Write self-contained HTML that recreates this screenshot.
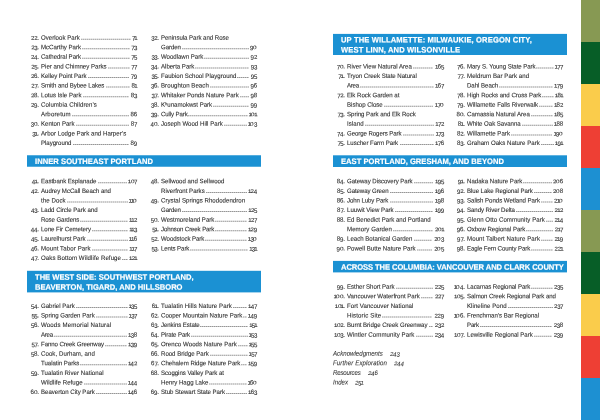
<!DOCTYPE html>
<html lang="en">
<head>
<meta charset="utf-8">
<title>Contents</title>
<style>
html,body{margin:0;padding:0;background:#fff}
body{width:600px;height:420px;position:relative;overflow:hidden;font-family:"Liberation Sans",sans-serif;color:#2a2a2a;text-rendering:geometricPrecision}
div{position:absolute;white-space:pre;line-height:9px;height:9px;transform-origin:0 6px}
.st{left:581px;width:19px;height:42px}
.bar{background:#1b91d3;transform-origin:0 0}
.h{font-weight:bold;font-size:7.6px;color:#fff;-webkit-text-stroke:0.18px #fff;line-height:10px;height:10px;transform-origin:0 7px}
.t,.n,.p{font-size:6.1px;-webkit-text-stroke:0.08px #2a2a2a}
.i{font-style:italic;color:#303030;-webkit-text-stroke:0.06px #303030}
.n,.p{width:30px;text-align:right}
.n0,.n1,.n2,.n3,.n4,.n5,.n6,.n7,.n8,.n9{display:inline-block;font-size:6.1px;transform-origin:0 6px;-webkit-text-stroke:0.08px #2a2a2a}
.n0{letter-spacing:0.2px;transform:scale(1.05,0.85)}
.n1{letter-spacing:-0.7px;margin-left:-0.5px;-webkit-text-stroke:0.12px #2a2a2a;transform:scale(1,0.85)}
.n2{letter-spacing:-0.3px;transform:scale(1,0.85)}
.n3{letter-spacing:-0.45px;transform:translateY(1.0px) scale(1,1.075)}
.n4{letter-spacing:-0.1px;transform:translateY(1.0px) scale(1,1.075)}
.n5{letter-spacing:-0.45px;transform:translateY(1.0px) scale(1,1.075)}
.n6{letter-spacing:-0.1px;transform:scale(1,1.075)}
.n7{letter-spacing:-0.5px;transform:translateY(1.0px) scale(1,1.075)}
.n8{letter-spacing:-0.1px;transform:scale(1,1.075)}
.n9{letter-spacing:-0.1px;transform:translateY(1.0px) scale(1,1.075)}
.i span{-webkit-text-stroke:0.06px #303030}
.l{height:2px;background-repeat:no-repeat;background-size:100% 1px;background-position:0 0,0 1px}
.l0{background-image:repeating-linear-gradient(90deg,rgba(0,0,0,0.412) 0,rgba(0,0,0,0.412) 1px,rgba(0,0,0,0.231) 1px,rgba(0,0,0,0.231) 2px),repeating-linear-gradient(90deg,rgba(0,0,0,0) 0,rgba(0,0,0,0) 1px,rgba(0,0,0,0) 1px,rgba(0,0,0,0) 2px)}
.l1{background-image:repeating-linear-gradient(90deg,rgba(0,0,0,0.309) 0,rgba(0,0,0,0.309) 1px,rgba(0,0,0,0.174) 1px,rgba(0,0,0,0.174) 2px),repeating-linear-gradient(90deg,rgba(0,0,0,0.103) 0,rgba(0,0,0,0.103) 1px,rgba(0,0,0,0.058) 1px,rgba(0,0,0,0.058) 2px)}
.l2{background-image:repeating-linear-gradient(90deg,rgba(0,0,0,0.206) 0,rgba(0,0,0,0.206) 1px,rgba(0,0,0,0.116) 1px,rgba(0,0,0,0.116) 2px),repeating-linear-gradient(90deg,rgba(0,0,0,0.206) 0,rgba(0,0,0,0.206) 1px,rgba(0,0,0,0.116) 1px,rgba(0,0,0,0.116) 2px)}
.l3{background-image:repeating-linear-gradient(90deg,rgba(0,0,0,0.103) 0,rgba(0,0,0,0.103) 1px,rgba(0,0,0,0.058) 1px,rgba(0,0,0,0.058) 2px),repeating-linear-gradient(90deg,rgba(0,0,0,0.309) 0,rgba(0,0,0,0.309) 1px,rgba(0,0,0,0.174) 1px,rgba(0,0,0,0.174) 2px)}
</style>
</head>
<body>
<div class="st" style="top:0px;background:#879953"></div>
<div class="st" style="top:42px;background:#075e27"></div>
<div class="st" style="top:84px;background:#facc4b"></div>
<div class="st" style="top:126px;background:#ee3f34"></div>
<div class="st" style="top:168px;background:#1d90d2"></div>
<div class="st" style="top:210px;background:#879953"></div>
<div class="st" style="top:252px;background:#075e27"></div>
<div class="st" style="top:294px;background:#facc4b"></div>
<div class="st" style="top:336px;background:#ee3f34"></div>
<div class="st" style="top:378px;background:#1d90d2"></div>
<div class="bar" style="left:27px;top:156px;width:234px;height:10px"></div>
<div class="bar" style="left:27px;top:155px;width:234px;height:1px;opacity:0.75"></div>
<div class="bar" style="left:27px;top:166px;width:234px;height:1px;opacity:0.75"></div>
<div class="h" style="left:34.7px;top:157px;transform:matrix(1,0.0006,0,1.05,0,-0.035);letter-spacing:0.05px">INNER SOUTHEAST PORTLAND</div>
<div class="bar" style="left:27px;top:271px;width:234px;height:21px"></div>
<div class="bar" style="left:27px;top:270px;width:234px;height:1px;opacity:0.2"></div>
<div class="bar" style="left:27px;top:292px;width:234px;height:1px;opacity:0.4"></div>
<div class="h" style="left:34.7px;top:273px;transform:matrix(1,0.0006,0,1.05,0,-0.298);letter-spacing:0px">THE WEST SIDE: SOUTHWEST PORTLAND,</div>
<div class="h" style="left:34.7px;top:283px;transform:matrix(1,0.0006,0,1.05,0,-0.294);letter-spacing:0px">BEAVERTON, TIGARD, AND HILLSBORO</div>
<div class="bar" style="left:333px;top:34px;width:234px;height:21px"></div>
<div class="bar" style="left:333px;top:33px;width:234px;height:1px;opacity:0.1"></div>
<div class="h" style="left:340.5px;top:36px;transform:matrix(1,0.0006,0,1.05,0,-0.557);letter-spacing:0.12px">UP THE WILLAMETTE: MILWAUKIE, OREGON CITY,</div>
<div class="h" style="left:340.5px;top:45px;transform:matrix(1,0.0006,0,1.05,0,0.464);letter-spacing:0.12px">WEST LINN, AND WILSONVILLE</div>
<div class="bar" style="left:333px;top:156px;width:234px;height:11px"></div>
<div class="bar" style="left:333px;top:155px;width:234px;height:1px;opacity:0.7"></div>
<div class="h" style="left:340.5px;top:157px;transform:matrix(1,0.0006,0,1.05,0,-0.049);letter-spacing:0.01px">EAST PORTLAND, GRESHAM, AND BEYOND</div>
<div class="bar" style="left:333px;top:261px;width:234px;height:11px"></div>
<div class="bar" style="left:333px;top:260px;width:234px;height:1px;opacity:0.1"></div>
<div class="bar" style="left:333px;top:272px;width:234px;height:1px;opacity:0.4"></div>
<div class="h" style="left:340.5px;top:263px;transform:matrix(1,0.0006,0,1.05,0,-0.317);letter-spacing:-0.08px">ACROSS THE COLUMBIA: VANCOUVER AND CLARK COUNTY</div>
<div class="n" style="left:9.2px;top:34px;transform:matrix(1,0.0006,0,1,0,-0.265)"><span class="n2">2</span><span class="n2">2</span>.</div>
<div class="t" style="left:41.1px;top:34px;transform:matrix(1,0.0006,0,1.045,0,-0.262);letter-spacing:0.01px">Overlook Park</div>
<div class="l l3" style="left:81px;top:38px;width:50px"></div>
<div class="p" style="left:107.4px;top:34px;transform:matrix(1,0.0006,0,1,0,-0.266)"><span class="n7">7</span><span class="n1">1</span></div>
<div class="n" style="left:9.2px;top:43px;transform:matrix(1,0.0006,0,1,0,0.235)"><span class="n2">2</span><span class="n3">3</span>.</div>
<div class="t" style="left:41.1px;top:43px;transform:matrix(1,0.0006,0,1.045,0,0.238);letter-spacing:-0.03px">McCarthy Park</div>
<div class="l l1" style="left:82px;top:48px;width:48px"></div>
<div class="p" style="left:107.4px;top:43px;transform:matrix(1,0.0006,0,1,0,0.234)"><span class="n7">7</span><span class="n3">3</span></div>
<div class="n" style="left:9.2px;top:53px;transform:matrix(1,0.0006,0,1,0,-0.265)"><span class="n2">2</span><span class="n4">4</span>.</div>
<div class="t" style="left:41.1px;top:53px;transform:matrix(1,0.0006,0,1.045,0,-0.262);letter-spacing:-0.05px">Cathedral Park</div>
<div class="l l3" style="left:82px;top:57px;width:48px"></div>
<div class="p" style="left:107.4px;top:53px;transform:matrix(1,0.0006,0,1,0,-0.266)"><span class="n7">7</span><span class="n5">5</span></div>
<div class="n" style="left:9.2px;top:62px;transform:matrix(1,0.0006,0,1,0,0.485)"><span class="n2">2</span><span class="n5">5</span>.</div>
<div class="t" style="left:41.1px;top:62px;transform:matrix(1,0.0006,0,1.045,0,0.48);letter-spacing:-0.01px">Pier and Chimney Parks</div>
<div class="l l2" style="left:108px;top:67px;width:22px"></div>
<div class="p" style="left:107.4px;top:62px;transform:matrix(1,0.0006,0,1,0,0.484)"><span class="n7">7</span><span class="n7">7</span></div>
<div class="n" style="left:9.2px;top:72px;transform:matrix(1,0.0006,0,1,0,-0.015)"><span class="n2">2</span><span class="n6">6</span>.</div>
<div class="t" style="left:41.1px;top:72px;transform:matrix(1,0.0006,0,1.045,0,-0.014);letter-spacing:-0.06px">Kelley Point Park</div>
<div class="l l0" style="left:88px;top:77px;width:41px"></div>
<div class="p" style="left:107.4px;top:72px;transform:matrix(1,0.0006,0,1,0,-0.016)"><span class="n7">7</span><span class="n9">9</span></div>
<div class="n" style="left:9.2px;top:82px;transform:matrix(1,0.0006,0,1,0,-0.515)"><span class="n2">2</span><span class="n7">7</span>.</div>
<div class="t" style="left:41.1px;top:82px;transform:matrix(1,0.0006,0,1.045,0,-0.519);letter-spacing:-0.05px">Smith and Bybee Lakes</div>
<div class="l l2" style="left:106px;top:86px;width:24px"></div>
<div class="p" style="left:107.4px;top:82px;transform:matrix(1,0.0006,0,1,0,-0.516)"><span class="n8">8</span><span class="n1">1</span></div>
<div class="n" style="left:9.2px;top:91px;transform:matrix(1,0.0006,0,1,0,0.235)"><span class="n2">2</span><span class="n8">8</span>.</div>
<div class="t" style="left:41.1px;top:91px;transform:matrix(1,0.0006,0,1.045,0,0.238);letter-spacing:0.01px">Lotus Isle Park</div>
<div class="l l1" style="left:83px;top:96px;width:46px"></div>
<div class="p" style="left:107.4px;top:91px;transform:matrix(1,0.0006,0,1,0,0.234)"><span class="n8">8</span><span class="n3">3</span></div>
<div class="n" style="left:9.2px;top:101px;transform:matrix(1,0.0006,0,1,0,-0.265)"><span class="n2">2</span><span class="n9">9</span>.</div>
<div class="t" style="left:41.1px;top:101px;transform:matrix(1,0.0006,0,1.045,0,-0.267);letter-spacing:0.08px">Columbia Children’s</div>
<div class="t" style="left:41.1px;top:110px;transform:matrix(1,0.0006,0,1.045,0,0.241);letter-spacing:0.14px">Arboretum</div>
<div class="l l1" style="left:72px;top:115px;width:57px"></div>
<div class="p" style="left:107.4px;top:110px;transform:matrix(1,0.0006,0,1,0,0.234)"><span class="n8">8</span><span class="n6">6</span></div>
<div class="n" style="left:9.2px;top:120px;transform:matrix(1,0.0006,0,1,0,-0.265)"><span class="n3">3</span><span class="n0">0</span>.</div>
<div class="t" style="left:41.1px;top:120px;transform:matrix(1,0.0006,0,1.045,0,-0.26);letter-spacing:-0.01px">Kenton Park</div>
<div class="l l3" style="left:76px;top:124px;width:53px"></div>
<div class="p" style="left:107.4px;top:120px;transform:matrix(1,0.0006,0,1,0,-0.266)"><span class="n8">8</span><span class="n7">7</span></div>
<div class="n" style="left:9.2px;top:129px;transform:matrix(1,0.0006,0,1,0,0.485)"><span class="n3">3</span><span class="n1">1</span>.</div>
<div class="t" style="left:41.1px;top:129px;transform:matrix(1,0.0006,0,1.045,0,0.474);letter-spacing:0.03px">Arbor Lodge Park and Harper’s</div>
<div class="t" style="left:41.1px;top:139px;transform:matrix(1,0.0006,0,1.045,0,-0.009);letter-spacing:-0.04px">Playground</div>
<div class="l l0" style="left:73px;top:144px;width:56px"></div>
<div class="p" style="left:107.4px;top:139px;transform:matrix(1,0.0006,0,1,0,-0.016)"><span class="n8">8</span><span class="n9">9</span></div>
<div class="n" style="left:128.8px;top:34px;transform:matrix(1,0.0006,0,1,0,-0.265)"><span class="n3">3</span><span class="n2">2</span>.</div>
<div class="t" style="left:160.7px;top:34px;transform:matrix(1,0.0006,0,1.045,0,-0.27);letter-spacing:-0.04px">Peninsula Park and Rose</div>
<div class="t" style="left:160.7px;top:43px;transform:matrix(1,0.0006,0,1.045,0,0.244);letter-spacing:-0.07px">Garden</div>
<div class="l l1" style="left:182px;top:48px;width:67px"></div>
<div class="p" style="left:227.4px;top:43px;transform:matrix(1,0.0006,0,1,0,0.234)"><span class="n9">9</span><span class="n0">0</span></div>
<div class="n" style="left:128.8px;top:53px;transform:matrix(1,0.0006,0,1,0,-0.265)"><span class="n3">3</span><span class="n3">3</span>.</div>
<div class="t" style="left:160.7px;top:53px;transform:matrix(1,0.0006,0,1.045,0,-0.263);letter-spacing:-0.03px">Woodlawn Park</div>
<div class="l l3" style="left:204px;top:57px;width:45px"></div>
<div class="p" style="left:227.4px;top:53px;transform:matrix(1,0.0006,0,1,0,-0.266)"><span class="n9">9</span><span class="n2">2</span></div>
<div class="n" style="left:128.8px;top:62px;transform:matrix(1,0.0006,0,1,0,0.485)"><span class="n3">3</span><span class="n4">4</span>.</div>
<div class="t" style="left:160.7px;top:62px;transform:matrix(1,0.0006,0,1.045,0,0.49);letter-spacing:-0.02px">Alberta Park</div>
<div class="l l2" style="left:195px;top:67px;width:54px"></div>
<div class="p" style="left:227.4px;top:62px;transform:matrix(1,0.0006,0,1,0,0.484)"><span class="n9">9</span><span class="n3">3</span></div>
<div class="n" style="left:128.8px;top:72px;transform:matrix(1,0.0006,0,1,0,-0.015)"><span class="n3">3</span><span class="n5">5</span>.</div>
<div class="t" style="left:160.7px;top:72px;transform:matrix(1,0.0006,0,1.045,0,-0.023);letter-spacing:0.02px">Faubion School Playground</div>
<div class="l l0" style="left:237px;top:77px;width:12px"></div>
<div class="p" style="left:227.4px;top:72px;transform:matrix(1,0.0006,0,1,0,-0.016)"><span class="n9">9</span><span class="n5">5</span></div>
<div class="n" style="left:128.8px;top:82px;transform:matrix(1,0.0006,0,1,0,-0.515)"><span class="n3">3</span><span class="n6">6</span>.</div>
<div class="t" style="left:160.7px;top:82px;transform:matrix(1,0.0006,0,1.045,0,-0.514);letter-spacing:0.05px">Broughton Beach</div>
<div class="l l2" style="left:210px;top:86px;width:39px"></div>
<div class="p" style="left:227.4px;top:82px;transform:matrix(1,0.0006,0,1,0,-0.516)"><span class="n9">9</span><span class="n6">6</span></div>
<div class="n" style="left:128.8px;top:91px;transform:matrix(1,0.0006,0,1,0,0.235)"><span class="n3">3</span><span class="n7">7</span>.</div>
<div class="t" style="left:160.7px;top:91px;transform:matrix(1,0.0006,0,1.045,0,0.227);letter-spacing:0.02px">Whitaker Ponds Nature Park</div>
<div class="l l1" style="left:240px;top:96px;width:9px"></div>
<div class="p" style="left:227.4px;top:91px;transform:matrix(1,0.0006,0,1,0,0.234)"><span class="n9">9</span><span class="n8">8</span></div>
<div class="n" style="left:128.8px;top:101px;transform:matrix(1,0.0006,0,1,0,-0.265)"><span class="n3">3</span><span class="n8">8</span>.</div>
<div class="t" style="left:160.7px;top:101px;transform:matrix(1,0.0006,0,1.045,0,-0.265);letter-spacing:-0.02px">Kʰunamokwst Park</div>
<div class="l l3" style="left:213px;top:105px;width:36px"></div>
<div class="p" style="left:227.4px;top:101px;transform:matrix(1,0.0006,0,1,0,-0.266)"><span class="n9">9</span><span class="n9">9</span></div>
<div class="n" style="left:128.8px;top:110px;transform:matrix(1,0.0006,0,1,0,0.235)"><span class="n3">3</span><span class="n9">9</span>.</div>
<div class="t" style="left:160.7px;top:110px;transform:matrix(1,0.0006,0,1.045,0,0.242);letter-spacing:-0.12px">Cully Park</div>
<div class="l l1" style="left:188px;top:115px;width:60px"></div>
<div class="p" style="left:227.4px;top:110px;transform:matrix(1,0.0006,0,1,0,0.234)"><span class="n1">1</span><span class="n0">0</span><span class="n1">1</span></div>
<div class="n" style="left:128.8px;top:120px;transform:matrix(1,0.0006,0,1,0,-0.265)"><span class="n4">4</span><span class="n0">0</span>.</div>
<div class="t" style="left:160.7px;top:120px;transform:matrix(1,0.0006,0,1.045,0,-0.269);letter-spacing:0.01px">Joseph Wood Hill Park</div>
<div class="l l3" style="left:224px;top:124px;width:23px"></div>
<div class="p" style="left:227.4px;top:120px;transform:matrix(1,0.0006,0,1,0,-0.266)"><span class="n1">1</span><span class="n0">0</span><span class="n3">3</span></div>
<div class="n" style="left:9.2px;top:177px;transform:matrix(1,0.0006,0,1,0,0.235)"><span class="n4">4</span><span class="n1">1</span>.</div>
<div class="t" style="left:41.1px;top:177px;transform:matrix(1,0.0006,0,1.045,0,0.233);letter-spacing:-0.03px">Eastbank Esplanade</div>
<div class="l l1" style="left:98px;top:182px;width:29px"></div>
<div class="p" style="left:107.4px;top:177px;transform:matrix(1,0.0006,0,1,0,0.234)"><span class="n1">1</span><span class="n0">0</span><span class="n7">7</span></div>
<div class="n" style="left:9.2px;top:187px;transform:matrix(1,0.0006,0,1,0,-0.015)"><span class="n4">4</span><span class="n2">2</span>.</div>
<div class="t" style="left:41.1px;top:187px;transform:matrix(1,0.0006,0,1.045,0,-0.021);letter-spacing:-0.02px">Audrey McCall Beach and</div>
<div class="t" style="left:41.1px;top:197px;transform:matrix(1,0.0006,0,1.045,0,-0.507);letter-spacing:0.08px">the Dock</div>
<div class="l l2" style="left:67px;top:201px;width:61px"></div>
<div class="p" style="left:107.4px;top:197px;transform:matrix(1,0.0006,0,1,0,-0.516)"><span class="n1">1</span><span class="n1">1</span><span class="n0">0</span></div>
<div class="n" style="left:9.2px;top:206px;transform:matrix(1,0.0006,0,1,0,-0.015)"><span class="n4">4</span><span class="n3">3</span>.</div>
<div class="t" style="left:41.1px;top:206px;transform:matrix(1,0.0006,0,1.045,0,-0.017);letter-spacing:-0.02px">Ladd Circle Park and</div>
<div class="t" style="left:41.1px;top:216px;transform:matrix(1,0.0006,0,1.045,0,-0.261);letter-spacing:-0.09px">Rose Gardens</div>
<div class="l l3" style="left:80px;top:220px;width:48px"></div>
<div class="p" style="left:107.4px;top:216px;transform:matrix(1,0.0006,0,1,0,-0.266)"><span class="n1">1</span><span class="n1">1</span><span class="n2">2</span></div>
<div class="n" style="left:9.2px;top:225px;transform:matrix(1,0.0006,0,1,0,0.235)"><span class="n4">4</span><span class="n4">4</span>.</div>
<div class="t" style="left:41.1px;top:225px;transform:matrix(1,0.0006,0,1.045,0,0.235);letter-spacing:-0.03px">Lone Fir Cemetery</div>
<div class="l l1" style="left:92px;top:230px;width:36px"></div>
<div class="p" style="left:107.4px;top:225px;transform:matrix(1,0.0006,0,1,0,0.234)"><span class="n1">1</span><span class="n1">1</span><span class="n3">3</span></div>
<div class="n" style="left:9.2px;top:235px;transform:matrix(1,0.0006,0,1,0,-0.265)"><span class="n4">4</span><span class="n5">5</span>.</div>
<div class="t" style="left:41.1px;top:235px;transform:matrix(1,0.0006,0,1.045,0,-0.263);letter-spacing:-0.01px">Laurelhurst Park</div>
<div class="l l3" style="left:87px;top:239px;width:41px"></div>
<div class="p" style="left:107.4px;top:235px;transform:matrix(1,0.0006,0,1,0,-0.266)"><span class="n1">1</span><span class="n1">1</span><span class="n6">6</span></div>
<div class="n" style="left:9.2px;top:244px;transform:matrix(1,0.0006,0,1,0,0.485)"><span class="n4">4</span><span class="n6">6</span>.</div>
<div class="t" style="left:41.1px;top:244px;transform:matrix(1,0.0006,0,1.045,0,0.485);letter-spacing:0.1px">Mount Tabor Park</div>
<div class="l l2" style="left:92px;top:249px;width:36px"></div>
<div class="p" style="left:107.4px;top:244px;transform:matrix(1,0.0006,0,1,0,0.484)"><span class="n1">1</span><span class="n1">1</span><span class="n7">7</span></div>
<div class="n" style="left:9.2px;top:254px;transform:matrix(1,0.0006,0,1,0,-0.015)"><span class="n4">4</span><span class="n7">7</span>.</div>
<div class="t" style="left:41.1px;top:254px;transform:matrix(1,0.0006,0,1.045,0,-0.024);letter-spacing:0.08px">Oaks Bottom Wildlife Refuge</div>
<div class="l l0" style="left:122px;top:259px;width:6px"></div>
<div class="p" style="left:107.4px;top:254px;transform:matrix(1,0.0006,0,1,0,-0.016)"><span class="n1">1</span><span class="n2">2</span><span class="n1">1</span></div>
<div class="n" style="left:128.8px;top:177px;transform:matrix(1,0.0006,0,1,0,0.235)"><span class="n4">4</span><span class="n8">8</span>.</div>
<div class="t" style="left:160.7px;top:177px;transform:matrix(1,0.0006,0,1.045,0,0.231);letter-spacing:0.02px">Sellwood and Sellwood</div>
<div class="t" style="left:160.7px;top:187px;transform:matrix(1,0.0006,0,1.045,0,-0.013);letter-spacing:0px">Riverfront Parks</div>
<div class="l l0" style="left:206px;top:192px;width:41px"></div>
<div class="p" style="left:227.4px;top:187px;transform:matrix(1,0.0006,0,1,0,-0.016)"><span class="n1">1</span><span class="n2">2</span><span class="n4">4</span></div>
<div class="n" style="left:128.8px;top:197px;transform:matrix(1,0.0006,0,1,0,-0.515)"><span class="n4">4</span><span class="n9">9</span>.</div>
<div class="t" style="left:160.7px;top:197px;transform:matrix(1,0.0006,0,1.045,0,-0.525);letter-spacing:0.03px">Crystal Springs Rhododendron</div>
<div class="t" style="left:160.7px;top:206px;transform:matrix(1,0.0006,0,1.045,0,-0.006);letter-spacing:-0.07px">Garden</div>
<div class="l l0" style="left:182px;top:211px;width:65px"></div>
<div class="p" style="left:227.4px;top:206px;transform:matrix(1,0.0006,0,1,0,-0.016)"><span class="n1">1</span><span class="n2">2</span><span class="n5">5</span></div>
<div class="n" style="left:128.8px;top:216px;transform:matrix(1,0.0006,0,1,0,-0.265)"><span class="n5">5</span><span class="n0">0</span>.</div>
<div class="t" style="left:160.7px;top:216px;transform:matrix(1,0.0006,0,1.045,0,-0.266);letter-spacing:0px">Westmoreland Park</div>
<div class="l l3" style="left:215px;top:220px;width:32px"></div>
<div class="p" style="left:227.4px;top:216px;transform:matrix(1,0.0006,0,1,0,-0.266)"><span class="n1">1</span><span class="n2">2</span><span class="n7">7</span></div>
<div class="n" style="left:128.8px;top:225px;transform:matrix(1,0.0006,0,1,0,0.235)"><span class="n5">5</span><span class="n1">1</span>.</div>
<div class="t" style="left:160.7px;top:225px;transform:matrix(1,0.0006,0,1.045,0,0.234);letter-spacing:-0.11px">Johnson Creek Park</div>
<div class="l l1" style="left:215px;top:230px;width:32px"></div>
<div class="p" style="left:227.4px;top:225px;transform:matrix(1,0.0006,0,1,0,0.234)"><span class="n1">1</span><span class="n2">2</span><span class="n9">9</span></div>
<div class="n" style="left:128.8px;top:235px;transform:matrix(1,0.0006,0,1,0,-0.265)"><span class="n5">5</span><span class="n2">2</span>.</div>
<div class="t" style="left:160.7px;top:235px;transform:matrix(1,0.0006,0,1.045,0,-0.263);letter-spacing:-0.07px">Woodstock Park</div>
<div class="l l3" style="left:205px;top:239px;width:42px"></div>
<div class="p" style="left:227.4px;top:235px;transform:matrix(1,0.0006,0,1,0,-0.266)"><span class="n1">1</span><span class="n3">3</span><span class="n0">0</span></div>
<div class="n" style="left:128.8px;top:244px;transform:matrix(1,0.0006,0,1,0,0.485)"><span class="n5">5</span><span class="n3">3</span>.</div>
<div class="t" style="left:160.7px;top:244px;transform:matrix(1,0.0006,0,1.045,0,0.491);letter-spacing:-0.08px">Lents Park</div>
<div class="l l2" style="left:190px;top:249px;width:58px"></div>
<div class="p" style="left:227.4px;top:244px;transform:matrix(1,0.0006,0,1,0,0.484)"><span class="n1">1</span><span class="n3">3</span><span class="n1">1</span></div>
<div class="n" style="left:9.2px;top:302px;transform:matrix(1,0.0006,0,1,0,-0.015)"><span class="n5">5</span><span class="n4">4</span>.</div>
<div class="t" style="left:41.1px;top:302px;transform:matrix(1,0.0006,0,1.045,0,-0.01);letter-spacing:-0.01px">Gabriel Park</div>
<div class="l l0" style="left:76px;top:307px;width:52px"></div>
<div class="p" style="left:107.4px;top:302px;transform:matrix(1,0.0006,0,1,0,-0.016)"><span class="n1">1</span><span class="n3">3</span><span class="n5">5</span></div>
<div class="n" style="left:9.2px;top:311px;transform:matrix(1,0.0006,0,1,0,0.485)"><span class="n5">5</span><span class="n5">5</span>.</div>
<div class="t" style="left:41.1px;top:311px;transform:matrix(1,0.0006,0,1.045,0,0.484);letter-spacing:-0.01px">Spring Garden Park</div>
<div class="l l2" style="left:96px;top:316px;width:32px"></div>
<div class="p" style="left:107.4px;top:311px;transform:matrix(1,0.0006,0,1,0,0.484)"><span class="n1">1</span><span class="n3">3</span><span class="n7">7</span></div>
<div class="n" style="left:9.2px;top:321px;transform:matrix(1,0.0006,0,1,0,-0.015)"><span class="n5">5</span><span class="n6">6</span>.</div>
<div class="t" style="left:41.1px;top:321px;transform:matrix(1,0.0006,0,1.045,0,-0.021);letter-spacing:0.15px">Woods Memorial Natural</div>
<div class="t" style="left:41.1px;top:331px;transform:matrix(1,0.0006,0,1.045,0,-0.254);letter-spacing:-0.26px">Area</div>
<div class="l l3" style="left:54px;top:335px;width:73px"></div>
<div class="p" style="left:107.4px;top:331px;transform:matrix(1,0.0006,0,1,0,-0.266)"><span class="n1">1</span><span class="n3">3</span><span class="n8">8</span></div>
<div class="n" style="left:9.2px;top:340px;transform:matrix(1,0.0006,0,1,0,0.235)"><span class="n5">5</span><span class="n7">7</span>.</div>
<div class="t" style="left:41.1px;top:340px;transform:matrix(1,0.0006,0,1.045,0,0.231);letter-spacing:-0.09px">Fanno Creek Greenway</div>
<div class="l l1" style="left:105px;top:345px;width:22px"></div>
<div class="p" style="left:107.4px;top:340px;transform:matrix(1,0.0006,0,1,0,0.234)"><span class="n1">1</span><span class="n3">3</span><span class="n9">9</span></div>
<div class="n" style="left:9.2px;top:350px;transform:matrix(1,0.0006,0,1,0,-0.265)"><span class="n5">5</span><span class="n8">8</span>.</div>
<div class="t" style="left:41.1px;top:350px;transform:matrix(1,0.0006,0,1.045,0,-0.266);letter-spacing:0.06px">Cook, Durham, and</div>
<div class="t" style="left:41.1px;top:359px;transform:matrix(1,0.0006,0,1.045,0,0.239);letter-spacing:-0.04px">Tualatin Parks</div>
<div class="l l1" style="left:80px;top:364px;width:47px"></div>
<div class="p" style="left:107.4px;top:359px;transform:matrix(1,0.0006,0,1,0,0.234)"><span class="n1">1</span><span class="n4">4</span><span class="n2">2</span></div>
<div class="n" style="left:9.2px;top:369px;transform:matrix(1,0.0006,0,1,0,-0.015)"><span class="n5">5</span><span class="n9">9</span>.</div>
<div class="t" style="left:41.1px;top:369px;transform:matrix(1,0.0006,0,1.045,0,-0.019);letter-spacing:0.05px">Tualatin River National</div>
<div class="t" style="left:41.1px;top:379px;transform:matrix(1,0.0006,0,1.045,0,-0.512);letter-spacing:0.04px">Wildlife Refuge</div>
<div class="l l2" style="left:84px;top:383px;width:43px"></div>
<div class="p" style="left:107.4px;top:379px;transform:matrix(1,0.0006,0,1,0,-0.516)"><span class="n1">1</span><span class="n4">4</span><span class="n4">4</span></div>
<div class="n" style="left:9.2px;top:388px;transform:matrix(1,0.0006,0,1,0,-0.015)"><span class="n6">6</span><span class="n0">0</span>.</div>
<div class="t" style="left:41.1px;top:388px;transform:matrix(1,0.0006,0,1.045,0,-0.016);letter-spacing:-0.02px">Beaverton City Park</div>
<div class="l l0" style="left:96px;top:393px;width:31px"></div>
<div class="p" style="left:107.4px;top:388px;transform:matrix(1,0.0006,0,1,0,-0.016)"><span class="n1">1</span><span class="n4">4</span><span class="n6">6</span></div>
<div class="n" style="left:128.8px;top:302px;transform:matrix(1,0.0006,0,1,0,-0.015)"><span class="n6">6</span><span class="n1">1</span>.</div>
<div class="t" style="left:160.7px;top:302px;transform:matrix(1,0.0006,0,1.045,0,-0.021);letter-spacing:0.08px">Tualatin Hills Nature Park</div>
<div class="l l0" style="left:233px;top:307px;width:14px"></div>
<div class="p" style="left:227.4px;top:302px;transform:matrix(1,0.0006,0,1,0,-0.016)"><span class="n1">1</span><span class="n4">4</span><span class="n7">7</span></div>
<div class="n" style="left:128.8px;top:311px;transform:matrix(1,0.0006,0,1,0,0.485)"><span class="n6">6</span><span class="n2">2</span>.</div>
<div class="t" style="left:160.7px;top:311px;transform:matrix(1,0.0006,0,1.045,0,0.476);letter-spacing:0.01px">Cooper Mountain Nature Park</div>
<div class="l l2" style="left:243px;top:316px;width:4px"></div>
<div class="p" style="left:227.4px;top:311px;transform:matrix(1,0.0006,0,1,0,0.484)"><span class="n1">1</span><span class="n4">4</span><span class="n9">9</span></div>
<div class="n" style="left:128.8px;top:321px;transform:matrix(1,0.0006,0,1,0,-0.015)"><span class="n6">6</span><span class="n3">3</span>.</div>
<div class="t" style="left:160.7px;top:321px;transform:matrix(1,0.0006,0,1.045,0,-0.012);letter-spacing:-0.07px">Jenkins Estate</div>
<div class="l l0" style="left:200px;top:326px;width:48px"></div>
<div class="p" style="left:227.4px;top:321px;transform:matrix(1,0.0006,0,1,0,-0.016)"><span class="n1">1</span><span class="n5">5</span><span class="n1">1</span></div>
<div class="n" style="left:128.8px;top:331px;transform:matrix(1,0.0006,0,1,0,-0.265)"><span class="n6">6</span><span class="n4">4</span>.</div>
<div class="t" style="left:160.7px;top:331px;transform:matrix(1,0.0006,0,1.045,0,-0.259);letter-spacing:-0.1px">Pirate Park</div>
<div class="l l3" style="left:191px;top:335px;width:57px"></div>
<div class="p" style="left:227.4px;top:331px;transform:matrix(1,0.0006,0,1,0,-0.266)"><span class="n1">1</span><span class="n5">5</span><span class="n3">3</span></div>
<div class="n" style="left:128.8px;top:340px;transform:matrix(1,0.0006,0,1,0,0.235)"><span class="n6">6</span><span class="n5">5</span>.</div>
<div class="t" style="left:160.7px;top:340px;transform:matrix(1,0.0006,0,1.045,0,0.227);letter-spacing:0.05px">Orenco Woods Nature Park</div>
<div class="l l1" style="left:238px;top:345px;width:10px"></div>
<div class="p" style="left:227.4px;top:340px;transform:matrix(1,0.0006,0,1,0,0.234)"><span class="n1">1</span><span class="n5">5</span><span class="n5">5</span></div>
<div class="n" style="left:128.8px;top:350px;transform:matrix(1,0.0006,0,1,0,-0.265)"><span class="n6">6</span><span class="n6">6</span>.</div>
<div class="t" style="left:160.7px;top:350px;transform:matrix(1,0.0006,0,1.045,0,-0.264);letter-spacing:-0.02px">Rood Bridge Park</div>
<div class="l l3" style="left:210px;top:354px;width:38px"></div>
<div class="p" style="left:227.4px;top:350px;transform:matrix(1,0.0006,0,1,0,-0.266)"><span class="n1">1</span><span class="n5">5</span><span class="n7">7</span></div>
<div class="n" style="left:128.8px;top:359px;transform:matrix(1,0.0006,0,1,0,0.235)"><span class="n6">6</span><span class="n7">7</span>.</div>
<div class="t" style="left:160.7px;top:359px;transform:matrix(1,0.0006,0,1.045,0,0.226);letter-spacing:-0.01px">Chehalem Ridge Nature Park</div>
<div class="l l1" style="left:241px;top:364px;width:6px"></div>
<div class="p" style="left:227.4px;top:359px;transform:matrix(1,0.0006,0,1,0,0.234)"><span class="n1">1</span><span class="n5">5</span><span class="n9">9</span></div>
<div class="n" style="left:128.8px;top:369px;transform:matrix(1,0.0006,0,1,0,-0.015)"><span class="n6">6</span><span class="n8">8</span>.</div>
<div class="t" style="left:160.7px;top:369px;transform:matrix(1,0.0006,0,1.045,0,-0.019);letter-spacing:-0.04px">Scoggins Valley Park at</div>
<div class="t" style="left:160.7px;top:379px;transform:matrix(1,0.0006,0,1.045,0,-0.514);letter-spacing:0px">Henry Hagg Lake</div>
<div class="l l2" style="left:209px;top:383px;width:38px"></div>
<div class="p" style="left:227.4px;top:379px;transform:matrix(1,0.0006,0,1,0,-0.516)"><span class="n1">1</span><span class="n6">6</span><span class="n0">0</span></div>
<div class="n" style="left:128.8px;top:388px;transform:matrix(1,0.0006,0,1,0,-0.015)"><span class="n6">6</span><span class="n9">9</span>.</div>
<div class="t" style="left:160.7px;top:388px;transform:matrix(1,0.0006,0,1.045,0,-0.019);letter-spacing:-0.05px">Stub Stewart State Park</div>
<div class="l l0" style="left:226px;top:393px;width:21px"></div>
<div class="p" style="left:227.4px;top:388px;transform:matrix(1,0.0006,0,1,0,-0.016)"><span class="n1">1</span><span class="n6">6</span><span class="n3">3</span></div>
<div class="n" style="left:315.2px;top:62px;transform:matrix(1,0.0006,0,1,0,0.485)"><span class="n7">7</span><span class="n0">0</span>.</div>
<div class="t" style="left:347.2px;top:62px;transform:matrix(1,0.0006,0,1.045,0,0.481);letter-spacing:0.01px">River View Natural Area</div>
<div class="l l2" style="left:413px;top:67px;width:20px"></div>
<div class="p" style="left:413.7px;top:62px;transform:matrix(1,0.0006,0,1,0,0.484)"><span class="n1">1</span><span class="n6">6</span><span class="n5">5</span></div>
<div class="n" style="left:315.2px;top:72px;transform:matrix(1,0.0006,0,1,0,-0.015)"><span class="n7">7</span><span class="n1">1</span>.</div>
<div class="t" style="left:347.2px;top:72px;transform:matrix(1,0.0006,0,1.045,0,-0.021);letter-spacing:-0.03px">Tryon Creek State Natural</div>
<div class="t" style="left:347.2px;top:82px;transform:matrix(1,0.0006,0,1.045,0,-0.504);letter-spacing:-0.26px">Area</div>
<div class="l l2" style="left:360px;top:86px;width:74px"></div>
<div class="p" style="left:413.7px;top:82px;transform:matrix(1,0.0006,0,1,0,-0.516)"><span class="n1">1</span><span class="n6">6</span><span class="n7">7</span></div>
<div class="n" style="left:315.2px;top:91px;transform:matrix(1,0.0006,0,1,0,0.235)"><span class="n7">7</span><span class="n2">2</span>.</div>
<div class="t" style="left:347.2px;top:91px;transform:matrix(1,0.0006,0,1.045,0,0.234);letter-spacing:-0.03px">Elk Rock Garden at</div>
<div class="t" style="left:347.2px;top:101px;transform:matrix(1,0.0006,0,1.045,0,-0.261);letter-spacing:-0.02px">Bishop Close</div>
<div class="l l3" style="left:384px;top:105px;width:49px"></div>
<div class="p" style="left:413.7px;top:101px;transform:matrix(1,0.0006,0,1,0,-0.266)"><span class="n1">1</span><span class="n7">7</span><span class="n0">0</span></div>
<div class="n" style="left:315.2px;top:110px;transform:matrix(1,0.0006,0,1,0,0.235)"><span class="n7">7</span><span class="n3">3</span>.</div>
<div class="t" style="left:347.2px;top:110px;transform:matrix(1,0.0006,0,1.045,0,0.229);letter-spacing:-0.03px">Spring Park and Elk Rock</div>
<div class="t" style="left:347.2px;top:120px;transform:matrix(1,0.0006,0,1.045,0,-0.255);letter-spacing:0.08px">Island</div>
<div class="l l3" style="left:365px;top:124px;width:69px"></div>
<div class="p" style="left:413.7px;top:120px;transform:matrix(1,0.0006,0,1,0,-0.266)"><span class="n1">1</span><span class="n7">7</span><span class="n2">2</span></div>
<div class="n" style="left:315.2px;top:129px;transform:matrix(1,0.0006,0,1,0,0.485)"><span class="n7">7</span><span class="n4">4</span>.</div>
<div class="t" style="left:347.2px;top:129px;transform:matrix(1,0.0006,0,1.045,0,0.484);letter-spacing:-0.08px">George Rogers Park</div>
<div class="l l2" style="left:403px;top:134px;width:31px"></div>
<div class="p" style="left:413.7px;top:129px;transform:matrix(1,0.0006,0,1,0,0.484)"><span class="n1">1</span><span class="n7">7</span><span class="n3">3</span></div>
<div class="n" style="left:315.2px;top:139px;transform:matrix(1,0.0006,0,1,0,-0.015)"><span class="n7">7</span><span class="n5">5</span>.</div>
<div class="t" style="left:347.2px;top:139px;transform:matrix(1,0.0006,0,1.045,0,-0.015);letter-spacing:-0.04px">Luscher Farm Park</div>
<div class="l l0" style="left:400px;top:144px;width:34px"></div>
<div class="p" style="left:413.7px;top:139px;transform:matrix(1,0.0006,0,1,0,-0.016)"><span class="n1">1</span><span class="n7">7</span><span class="n6">6</span></div>
<div class="n" style="left:434.8px;top:62px;transform:matrix(1,0.0006,0,1,0,0.485)"><span class="n7">7</span><span class="n6">6</span>.</div>
<div class="t" style="left:466.7px;top:62px;transform:matrix(1,0.0006,0,1.045,0,0.479);letter-spacing:-0.05px">Mary S. Young State Park</div>
<div class="l l2" style="left:536px;top:67px;width:18px"></div>
<div class="p" style="left:533.3px;top:62px;transform:matrix(1,0.0006,0,1,0,0.484)"><span class="n1">1</span><span class="n7">7</span><span class="n7">7</span></div>
<div class="n" style="left:434.8px;top:72px;transform:matrix(1,0.0006,0,1,0,-0.015)"><span class="n7">7</span><span class="n7">7</span>.</div>
<div class="t" style="left:466.7px;top:72px;transform:matrix(1,0.0006,0,1.045,0,-0.019);letter-spacing:0.06px">Meldrum Bar Park and</div>
<div class="t" style="left:466.7px;top:82px;transform:matrix(1,0.0006,0,1.045,0,-0.509);letter-spacing:-0.04px">Dahl Beach</div>
<div class="l l2" style="left:499px;top:86px;width:54px"></div>
<div class="p" style="left:533.3px;top:82px;transform:matrix(1,0.0006,0,1,0,-0.516)"><span class="n1">1</span><span class="n7">7</span><span class="n9">9</span></div>
<div class="n" style="left:434.8px;top:91px;transform:matrix(1,0.0006,0,1,0,0.235)"><span class="n7">7</span><span class="n8">8</span>.</div>
<div class="t" style="left:466.7px;top:91px;transform:matrix(1,0.0006,0,1.045,0,0.228);letter-spacing:-0.02px">High Rocks and Cross Park</div>
<div class="l l1" style="left:542px;top:96px;width:12px"></div>
<div class="p" style="left:533.3px;top:91px;transform:matrix(1,0.0006,0,1,0,0.234)"><span class="n1">1</span><span class="n8">8</span><span class="n1">1</span></div>
<div class="n" style="left:434.8px;top:101px;transform:matrix(1,0.0006,0,1,0,-0.265)"><span class="n7">7</span><span class="n9">9</span>.</div>
<div class="t" style="left:466.7px;top:101px;transform:matrix(1,0.0006,0,1.045,0,-0.271);letter-spacing:0px">Willamette Falls Riverwalk</div>
<div class="l l3" style="left:539px;top:105px;width:14px"></div>
<div class="p" style="left:533.3px;top:101px;transform:matrix(1,0.0006,0,1,0,-0.266)"><span class="n1">1</span><span class="n8">8</span><span class="n2">2</span></div>
<div class="n" style="left:434.8px;top:110px;transform:matrix(1,0.0006,0,1,0,0.235)"><span class="n8">8</span><span class="n0">0</span>.</div>
<div class="t" style="left:466.7px;top:110px;transform:matrix(1,0.0006,0,1.045,0,0.231);letter-spacing:0.01px">Camassia Natural Area</div>
<div class="l l1" style="left:531px;top:115px;width:22px"></div>
<div class="p" style="left:533.3px;top:110px;transform:matrix(1,0.0006,0,1,0,0.234)"><span class="n1">1</span><span class="n8">8</span><span class="n5">5</span></div>
<div class="n" style="left:434.8px;top:120px;transform:matrix(1,0.0006,0,1,0,-0.265)"><span class="n8">8</span><span class="n1">1</span>.</div>
<div class="t" style="left:466.7px;top:120px;transform:matrix(1,0.0006,0,1.045,0,-0.266);letter-spacing:-0.03px">White Oak Savanna</div>
<div class="l l3" style="left:522px;top:124px;width:31px"></div>
<div class="p" style="left:533.3px;top:120px;transform:matrix(1,0.0006,0,1,0,-0.266)"><span class="n1">1</span><span class="n8">8</span><span class="n8">8</span></div>
<div class="n" style="left:434.8px;top:129px;transform:matrix(1,0.0006,0,1,0,0.485)"><span class="n8">8</span><span class="n2">2</span>.</div>
<div class="t" style="left:466.7px;top:129px;transform:matrix(1,0.0006,0,1.045,0,0.487);letter-spacing:0.02px">Willamette Park</div>
<div class="l l2" style="left:511px;top:134px;width:41px"></div>
<div class="p" style="left:533.3px;top:129px;transform:matrix(1,0.0006,0,1,0,0.484)"><span class="n1">1</span><span class="n9">9</span><span class="n0">0</span></div>
<div class="n" style="left:434.8px;top:139px;transform:matrix(1,0.0006,0,1,0,-0.015)"><span class="n8">8</span><span class="n3">3</span>.</div>
<div class="t" style="left:466.7px;top:139px;transform:matrix(1,0.0006,0,1.045,0,-0.022);letter-spacing:0.03px">Graham Oaks Nature Park</div>
<div class="l l0" style="left:541px;top:144px;width:13px"></div>
<div class="p" style="left:533.3px;top:139px;transform:matrix(1,0.0006,0,1,0,-0.016)"><span class="n1">1</span><span class="n9">9</span><span class="n1">1</span></div>
<div class="n" style="left:315.2px;top:177px;transform:matrix(1,0.0006,0,1,0,0.235)"><span class="n8">8</span><span class="n4">4</span>.</div>
<div class="t" style="left:347.2px;top:177px;transform:matrix(1,0.0006,0,1.045,0,0.23);letter-spacing:-0.05px">Gateway Discovery Park</div>
<div class="l l1" style="left:414px;top:182px;width:19px"></div>
<div class="p" style="left:413.7px;top:177px;transform:matrix(1,0.0006,0,1,0,0.234)"><span class="n1">1</span><span class="n9">9</span><span class="n5">5</span></div>
<div class="n" style="left:315.2px;top:187px;transform:matrix(1,0.0006,0,1,0,-0.015)"><span class="n8">8</span><span class="n5">5</span>.</div>
<div class="t" style="left:347.2px;top:187px;transform:matrix(1,0.0006,0,1.045,0,-0.013);letter-spacing:-0.09px">Gateway Green</div>
<div class="l l0" style="left:390px;top:192px;width:43px"></div>
<div class="p" style="left:413.7px;top:187px;transform:matrix(1,0.0006,0,1,0,-0.016)"><span class="n1">1</span><span class="n9">9</span><span class="n6">6</span></div>
<div class="n" style="left:315.2px;top:197px;transform:matrix(1,0.0006,0,1,0,-0.515)"><span class="n8">8</span><span class="n6">6</span>.</div>
<div class="t" style="left:347.2px;top:197px;transform:matrix(1,0.0006,0,1.045,0,-0.512);letter-spacing:-0.09px">John Luby Park</div>
<div class="l l2" style="left:390px;top:201px;width:43px"></div>
<div class="p" style="left:413.7px;top:197px;transform:matrix(1,0.0006,0,1,0,-0.516)"><span class="n1">1</span><span class="n9">9</span><span class="n8">8</span></div>
<div class="n" style="left:315.2px;top:206px;transform:matrix(1,0.0006,0,1,0,-0.015)"><span class="n8">8</span><span class="n7">7</span>.</div>
<div class="t" style="left:347.2px;top:206px;transform:matrix(1,0.0006,0,1.045,0,-0.014);letter-spacing:0px">Luuwit View Park</div>
<div class="l l0" style="left:395px;top:211px;width:38px"></div>
<div class="p" style="left:413.7px;top:206px;transform:matrix(1,0.0006,0,1,0,-0.016)"><span class="n1">1</span><span class="n9">9</span><span class="n9">9</span></div>
<div class="n" style="left:315.2px;top:216px;transform:matrix(1,0.0006,0,1,0,-0.265)"><span class="n8">8</span><span class="n8">8</span>.</div>
<div class="t" style="left:347.2px;top:216px;transform:matrix(1,0.0006,0,1.045,0,-0.275);letter-spacing:0.01px">Ed Benedict Park and Portland</div>
<div class="t" style="left:347.2px;top:225px;transform:matrix(1,0.0006,0,1.045,0,0.237);letter-spacing:0.07px">Memory Garden</div>
<div class="l l1" style="left:393px;top:230px;width:40px"></div>
<div class="p" style="left:413.7px;top:225px;transform:matrix(1,0.0006,0,1,0,0.234)"><span class="n2">2</span><span class="n0">0</span><span class="n1">1</span></div>
<div class="n" style="left:315.2px;top:235px;transform:matrix(1,0.0006,0,1,0,-0.265)"><span class="n8">8</span><span class="n9">9</span>.</div>
<div class="t" style="left:347.2px;top:235px;transform:matrix(1,0.0006,0,1.045,0,-0.27);letter-spacing:0px">Leach Botanical Garden</div>
<div class="l l3" style="left:414px;top:239px;width:18px"></div>
<div class="p" style="left:413.7px;top:235px;transform:matrix(1,0.0006,0,1,0,-0.266)"><span class="n2">2</span><span class="n0">0</span><span class="n3">3</span></div>
<div class="n" style="left:315.2px;top:244px;transform:matrix(1,0.0006,0,1,0,0.485)"><span class="n9">9</span><span class="n0">0</span>.</div>
<div class="t" style="left:347.2px;top:244px;transform:matrix(1,0.0006,0,1.045,0,0.479);letter-spacing:0.02px">Powell Butte Nature Park</div>
<div class="l l2" style="left:417px;top:249px;width:15px"></div>
<div class="p" style="left:413.7px;top:244px;transform:matrix(1,0.0006,0,1,0,0.484)"><span class="n2">2</span><span class="n0">0</span><span class="n5">5</span></div>
<div class="n" style="left:434.8px;top:177px;transform:matrix(1,0.0006,0,1,0,0.235)"><span class="n9">9</span><span class="n1">1</span>.</div>
<div class="t" style="left:466.7px;top:177px;transform:matrix(1,0.0006,0,1.045,0,0.233);letter-spacing:0.01px">Nadaka Nature Park</div>
<div class="l l1" style="left:523px;top:182px;width:29px"></div>
<div class="p" style="left:533.3px;top:177px;transform:matrix(1,0.0006,0,1,0,0.234)"><span class="n2">2</span><span class="n0">0</span><span class="n6">6</span></div>
<div class="n" style="left:434.8px;top:187px;transform:matrix(1,0.0006,0,1,0,-0.015)"><span class="n9">9</span><span class="n2">2</span>.</div>
<div class="t" style="left:466.7px;top:187px;transform:matrix(1,0.0006,0,1.045,0,-0.02);letter-spacing:-0.06px">Blue Lake Regional Park</div>
<div class="l l0" style="left:534px;top:192px;width:18px"></div>
<div class="p" style="left:533.3px;top:187px;transform:matrix(1,0.0006,0,1,0,-0.016)"><span class="n2">2</span><span class="n0">0</span><span class="n8">8</span></div>
<div class="n" style="left:434.8px;top:197px;transform:matrix(1,0.0006,0,1,0,-0.515)"><span class="n9">9</span><span class="n3">3</span>.</div>
<div class="t" style="left:466.7px;top:197px;transform:matrix(1,0.0006,0,1.045,0,-0.522);letter-spacing:-0.03px">Salish Ponds Wetland Park</div>
<div class="l l2" style="left:541px;top:201px;width:12px"></div>
<div class="p" style="left:533.3px;top:197px;transform:matrix(1,0.0006,0,1,0,-0.516)"><span class="n2">2</span><span class="n1">1</span><span class="n0">0</span></div>
<div class="n" style="left:434.8px;top:206px;transform:matrix(1,0.0006,0,1,0,-0.015)"><span class="n9">9</span><span class="n4">4</span>.</div>
<div class="t" style="left:466.7px;top:206px;transform:matrix(1,0.0006,0,1.045,0,-0.014);letter-spacing:-0.07px">Sandy River Delta</div>
<div class="l l0" style="left:516px;top:211px;width:37px"></div>
<div class="p" style="left:533.3px;top:206px;transform:matrix(1,0.0006,0,1,0,-0.016)"><span class="n2">2</span><span class="n1">1</span><span class="n2">2</span></div>
<div class="n" style="left:434.8px;top:216px;transform:matrix(1,0.0006,0,1,0,-0.265)"><span class="n9">9</span><span class="n5">5</span>.</div>
<div class="t" style="left:466.7px;top:216px;transform:matrix(1,0.0006,0,1.045,0,-0.273);letter-spacing:0.07px">Glenn Otto Community Park</div>
<div class="l l3" style="left:546px;top:220px;width:7px"></div>
<div class="p" style="left:533.3px;top:216px;transform:matrix(1,0.0006,0,1,0,-0.266)"><span class="n2">2</span><span class="n1">1</span><span class="n4">4</span></div>
<div class="n" style="left:434.8px;top:225px;transform:matrix(1,0.0006,0,1,0,0.235)"><span class="n9">9</span><span class="n6">6</span>.</div>
<div class="t" style="left:466.7px;top:225px;transform:matrix(1,0.0006,0,1.045,0,0.232);letter-spacing:-0.03px">Oxbow Regional Park</div>
<div class="l l1" style="left:526px;top:230px;width:27px"></div>
<div class="p" style="left:533.3px;top:225px;transform:matrix(1,0.0006,0,1,0,0.234)"><span class="n2">2</span><span class="n1">1</span><span class="n7">7</span></div>
<div class="n" style="left:434.8px;top:235px;transform:matrix(1,0.0006,0,1,0,-0.265)"><span class="n9">9</span><span class="n7">7</span>.</div>
<div class="t" style="left:466.7px;top:235px;transform:matrix(1,0.0006,0,1.045,0,-0.272);letter-spacing:0.08px">Mount Talbert Nature Park</div>
<div class="l l3" style="left:541px;top:239px;width:12px"></div>
<div class="p" style="left:533.3px;top:235px;transform:matrix(1,0.0006,0,1,0,-0.266)"><span class="n2">2</span><span class="n1">1</span><span class="n9">9</span></div>
<div class="n" style="left:434.8px;top:244px;transform:matrix(1,0.0006,0,1,0,0.485)"><span class="n9">9</span><span class="n8">8</span>.</div>
<div class="t" style="left:466.7px;top:244px;transform:matrix(1,0.0006,0,1.045,0,0.481);letter-spacing:-0.08px">Eagle Fern County Park</div>
<div class="l l2" style="left:531px;top:249px;width:22px"></div>
<div class="p" style="left:533.3px;top:244px;transform:matrix(1,0.0006,0,1,0,0.484)"><span class="n2">2</span><span class="n2">2</span><span class="n1">1</span></div>
<div class="n" style="left:315.2px;top:283px;transform:matrix(1,0.0006,0,1,0,-0.265)"><span class="n9">9</span><span class="n9">9</span>.</div>
<div class="t" style="left:347.2px;top:283px;transform:matrix(1,0.0006,0,1.045,0,-0.264);letter-spacing:-0.04px">Esther Short Park</div>
<div class="l l3" style="left:396px;top:287px;width:37px"></div>
<div class="p" style="left:413.7px;top:283px;transform:matrix(1,0.0006,0,1,0,-0.266)"><span class="n2">2</span><span class="n2">2</span><span class="n5">5</span></div>
<div class="n" style="left:315.2px;top:292px;transform:matrix(1,0.0006,0,1,0,0.235)"><span class="n1">1</span><span class="n0">0</span><span class="n0">0</span>.</div>
<div class="t" style="left:347.2px;top:292px;transform:matrix(1,0.0006,0,1.045,0,0.228);letter-spacing:0px">Vancouver Waterfront Park</div>
<div class="l l1" style="left:421px;top:297px;width:12px"></div>
<div class="p" style="left:413.7px;top:292px;transform:matrix(1,0.0006,0,1,0,0.234)"><span class="n2">2</span><span class="n2">2</span><span class="n7">7</span></div>
<div class="n" style="left:315.2px;top:302px;transform:matrix(1,0.0006,0,1,0,-0.015)"><span class="n1">1</span><span class="n0">0</span><span class="n1">1</span>.</div>
<div class="t" style="left:347.2px;top:302px;transform:matrix(1,0.0006,0,1.045,0,-0.02);letter-spacing:0.05px">Fort Vancouver National</div>
<div class="t" style="left:347.2px;top:311px;transform:matrix(1,0.0006,0,1.045,0,0.49);letter-spacing:0.14px">Historic Site</div>
<div class="l l2" style="left:382px;top:316px;width:50px"></div>
<div class="p" style="left:413.7px;top:311px;transform:matrix(1,0.0006,0,1,0,0.484)"><span class="n2">2</span><span class="n2">2</span><span class="n9">9</span></div>
<div class="n" style="left:315.2px;top:321px;transform:matrix(1,0.0006,0,1,0,-0.015)"><span class="n1">1</span><span class="n0">0</span><span class="n2">2</span>.</div>
<div class="t" style="left:347.2px;top:321px;transform:matrix(1,0.0006,0,1.045,0,-0.024);letter-spacing:-0.03px">Burnt Bridge Creek Greenway</div>
<div class="l l0" style="left:429px;top:326px;width:4px"></div>
<div class="p" style="left:413.7px;top:321px;transform:matrix(1,0.0006,0,1,0,-0.016)"><span class="n2">2</span><span class="n3">3</span><span class="n2">2</span></div>
<div class="n" style="left:315.2px;top:331px;transform:matrix(1,0.0006,0,1,0,-0.265)"><span class="n1">1</span><span class="n0">0</span><span class="n3">3</span>.</div>
<div class="t" style="left:347.2px;top:331px;transform:matrix(1,0.0006,0,1.045,0,-0.27);letter-spacing:0.08px">Wintler Community Park</div>
<div class="l l3" style="left:416px;top:335px;width:17px"></div>
<div class="p" style="left:413.7px;top:331px;transform:matrix(1,0.0006,0,1,0,-0.266)"><span class="n2">2</span><span class="n3">3</span><span class="n4">4</span></div>
<div class="n" style="left:434.8px;top:283px;transform:matrix(1,0.0006,0,1,0,-0.265)"><span class="n1">1</span><span class="n0">0</span><span class="n4">4</span>.</div>
<div class="t" style="left:466.7px;top:283px;transform:matrix(1,0.0006,0,1.045,0,-0.269);letter-spacing:-0.07px">Lacamas Regional Park</div>
<div class="l l3" style="left:531px;top:287px;width:22px"></div>
<div class="p" style="left:533.3px;top:283px;transform:matrix(1,0.0006,0,1,0,-0.266)"><span class="n2">2</span><span class="n3">3</span><span class="n5">5</span></div>
<div class="n" style="left:434.8px;top:292px;transform:matrix(1,0.0006,0,1,0,0.235)"><span class="n1">1</span><span class="n0">0</span><span class="n5">5</span>.</div>
<div class="t" style="left:466.7px;top:292px;transform:matrix(1,0.0006,0,1.045,0,0.223);letter-spacing:-0.05px">Salmon Creek Regional Park and</div>
<div class="t" style="left:466.7px;top:302px;transform:matrix(1,0.0006,0,1.045,0,-0.012);letter-spacing:0.05px">Klineline Pond</div>
<div class="l l0" style="left:508px;top:307px;width:45px"></div>
<div class="p" style="left:533.3px;top:302px;transform:matrix(1,0.0006,0,1,0,-0.016)"><span class="n2">2</span><span class="n3">3</span><span class="n7">7</span></div>
<div class="n" style="left:434.8px;top:311px;transform:matrix(1,0.0006,0,1,0,0.485)"><span class="n1">1</span><span class="n0">0</span><span class="n6">6</span>.</div>
<div class="t" style="left:466.7px;top:311px;transform:matrix(1,0.0006,0,1.045,0,0.478);letter-spacing:0px">Frenchman’s Bar Regional</div>
<div class="t" style="left:466.7px;top:321px;transform:matrix(1,0.0006,0,1.045,0,-0.004);letter-spacing:-0.18px">Park</div>
<div class="l l0" style="left:480px;top:326px;width:72px"></div>
<div class="p" style="left:533.3px;top:321px;transform:matrix(1,0.0006,0,1,0,-0.016)"><span class="n2">2</span><span class="n3">3</span><span class="n8">8</span></div>
<div class="n" style="left:434.8px;top:331px;transform:matrix(1,0.0006,0,1,0,-0.265)"><span class="n1">1</span><span class="n0">0</span><span class="n7">7</span>.</div>
<div class="t" style="left:466.7px;top:331px;transform:matrix(1,0.0006,0,1.045,0,-0.27);letter-spacing:-0.01px">Lewisville Regional Park</div>
<div class="l l3" style="left:534px;top:335px;width:18px"></div>
<div class="p" style="left:533.3px;top:331px;transform:matrix(1,0.0006,0,1,0,-0.266)"><span class="n2">2</span><span class="n3">3</span><span class="n9">9</span></div>
<div class="t i" style="left:333px;top:350px;transform:matrix(1,0.0006,0,1.14,0,-0.265);letter-spacing:0.02px">Acknowledgments</div>
<div class="n i" style="left:390.1px;top:350px;transform:matrix(1,0.0006,0,1,0,-0.253);text-align:left"><span class="n2">2</span><span class="n4">4</span><span class="n3">3</span></div>
<div class="t i" style="left:333px;top:359px;transform:matrix(1,0.0006,0,1.14,0,0.234);letter-spacing:0.11px">Further Exploration</div>
<div class="n i" style="left:394.3px;top:359px;transform:matrix(1,0.0006,0,1,0,0.247);text-align:left"><span class="n2">2</span><span class="n4">4</span><span class="n4">4</span></div>
<div class="t i" style="left:333px;top:369px;transform:matrix(1,0.0006,0,1.14,0,-0.008);letter-spacing:-0.17px">Resources</div>
<div class="n i" style="left:367.6px;top:369px;transform:matrix(1,0.0006,0,1,0,-0.003);text-align:left"><span class="n2">2</span><span class="n4">4</span><span class="n6">6</span></div>
<div class="t i" style="left:333px;top:379px;transform:matrix(1,0.0006,0,1.14,0,-0.505);letter-spacing:0.04px">Index</div>
<div class="n i" style="left:355.1px;top:379px;transform:matrix(1,0.0006,0,1,0,-0.503);text-align:left"><span class="n2">2</span><span class="n5">5</span><span class="n1">1</span></div>
</body>
</html>
